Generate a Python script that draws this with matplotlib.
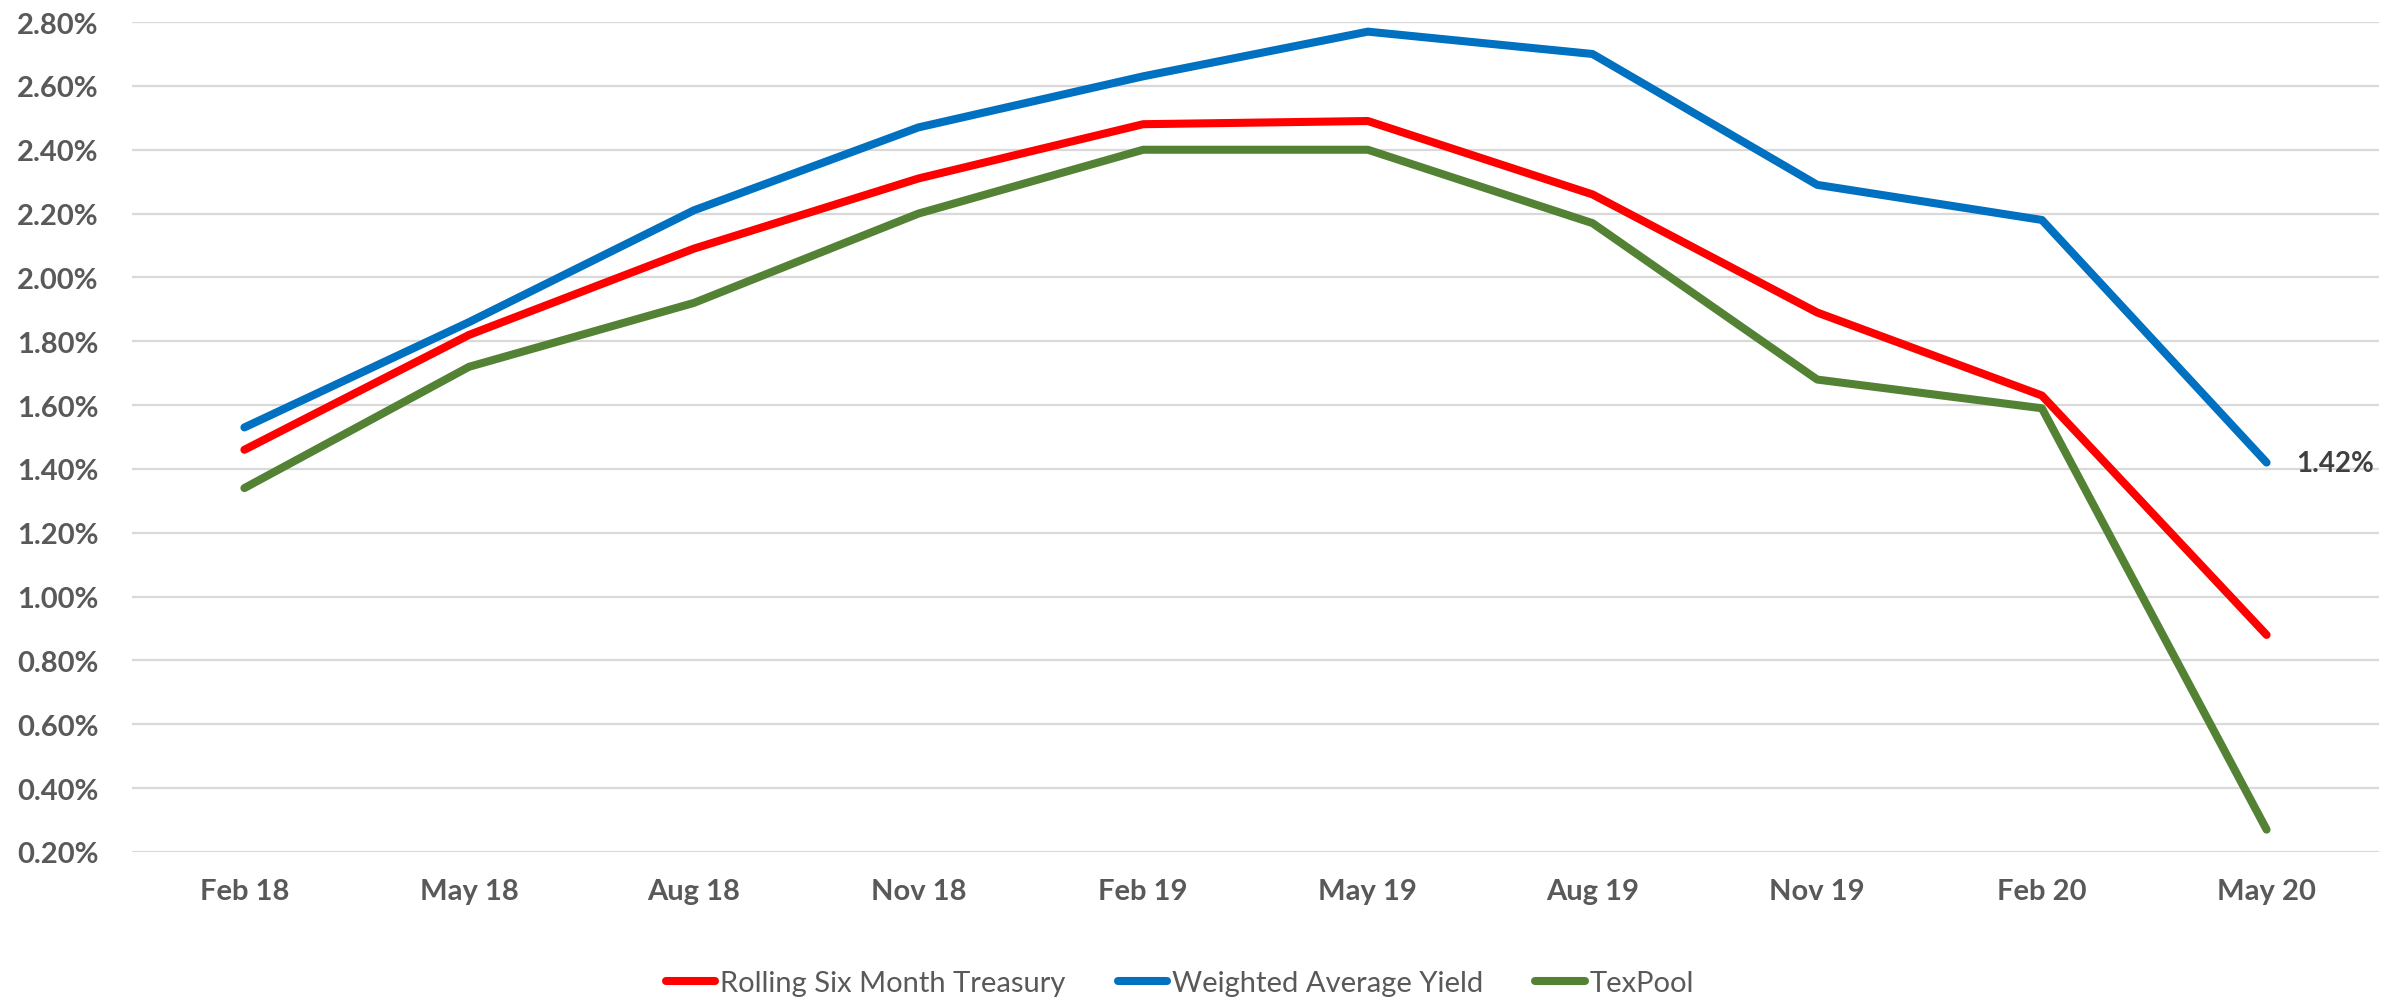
import matplotlib
matplotlib.use("Agg")
import matplotlib.pyplot as plt
from matplotlib.ticker import FuncFormatter, MultipleLocator

# quarterly yields in percent
quarters = ["Feb 18", "May 18", "Aug 18", "Nov 18", "Feb 19",
            "May 19", "Aug 19", "Nov 19", "Feb 20", "May 20"]
rolling_treasury = [1.46, 1.82, 2.09, 2.31, 2.48, 2.49, 2.26, 1.89, 1.63, 0.88]
weighted_avg_yield = [1.53, 1.86, 2.21, 2.47, 2.63, 2.77, 2.70, 2.29, 2.18, 1.42]
texpool = [1.34, 1.72, 1.92, 2.20, 2.40, 2.40, 2.17, 1.68, 1.59, 0.27]

GREY = "#595959"
FONT = ["Lato", "DejaVu Sans"]

fig = plt.figure(figsize=(23.88, 10.03), dpi=100, facecolor="white")
ax = fig.add_axes([0.0553, 0.1496, 0.9409, 0.8274])

x = list(range(len(quarters)))
ax.plot(x, rolling_treasury, color="#FF0000", lw=5.8, solid_capstyle="round",
        label="Rolling Six Month Treasury")
ax.plot(x, weighted_avg_yield, color="#0070C0", lw=5.8, solid_capstyle="round",
        label="Weighted Average Yield")
ax.plot(x, texpool, color="#548235", lw=5.8, solid_capstyle="round",
        label="TexPool")

# label on last point of the weighted average
ax.annotate(f"{weighted_avg_yield[-1]:.2f}%", (x[-1], weighted_avg_yield[-1]),
            xytext=(21, 0), textcoords="offset points", va="center", ha="left",
            fontsize=20, fontweight="bold", color="#404040", family=FONT,
            annotation_clip=False)

ax.set_xlim(-0.5, len(quarters) - 0.5)
ax.set_ylim(0.2, 2.8)
ax.yaxis.set_major_locator(MultipleLocator(0.2))
ax.yaxis.set_major_formatter(FuncFormatter(lambda v, _: f"{v:.2f}%"))
ax.set_xticks(x)
ax.set_xticklabels(quarters)
ax.grid(axis="y", color="#D9D9D9", lw=1.6)
ax.set_axisbelow(True)
for s in ax.spines.values():
    s.set_visible(False)
ax.tick_params(length=0, colors=GREY, labelsize=21)
ax.tick_params(axis="x", pad=19)
ax.tick_params(axis="y", pad=24)
for lab in ax.get_xticklabels() + ax.get_yticklabels():
    lab.set_fontweight("bold")
    lab.set_family(FONT)

leg = fig.legend(loc="center", bbox_to_anchor=(0.494, 0.019), ncol=3, frameon=False,
                 handlelength=1.7, handletextpad=0.15, columnspacing=1.8,
                 prop={"family": FONT, "size": 21})
for t in leg.get_texts():
    t.set_color(GREY)

fig.savefig("out.png", dpi=100, facecolor="white")
